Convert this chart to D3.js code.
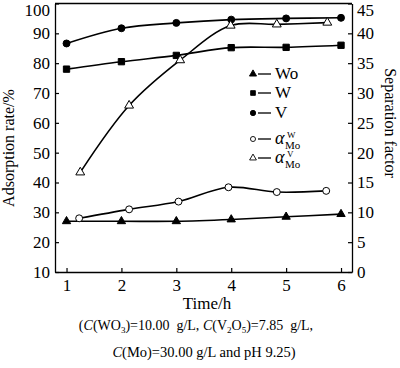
<!DOCTYPE html>
<html><head><meta charset="utf-8">
<script src="https://cdn.jsdelivr.net/npm/d3@7"></script>
<style>body{margin:0;background:#fff}svg{display:block;font-family:"Times New Roman","Liberation Serif",Times,serif}</style>
</head><body><svg id="c" width="400" height="368"></svg>
<script>
const times = [1, 2, 3, 4, 5, 6];
const woRate = [27.0, 27.0, 27.0, 27.6, 28.5, 29.4];
const wRate = [78.0, 80.5, 82.6, 85.2, 85.3, 86.0];
const vRate = [86.6, 91.7, 93.5, 94.6, 95.0, 95.2];
const alphaWTime = [1.23, 2.14, 3.04, 3.95, 4.83, 5.73];
const alphaW = [9.0, 10.5, 11.8, 14.2, 13.4, 13.6];
const alphaVTime = [1.25, 2.14, 3.07, 3.99, 4.83, 5.75];
const alphaV = [16.7, 27.9, 35.5, 41.3, 41.5, 41.8];
const leftTicks = [10, 20, 30, 40, 50, 60, 70, 80, 90, 100];
const rightTicks = [0, 5, 10, 15, 20, 25, 30, 35, 40, 45];
const xTicks = [1, 2, 3, 4, 5, 6];

const FONT = '"Times New Roman","Liberation Serif",Times,serif';
const svg = d3.select("#c");
const L = 55, R = 352, T = 3.5, B = 272;
const x = d3.scaleLinear().domain([0.79, 6.2]).range([L, R]);
const yL = d3.scaleLinear().domain([10, 100]).range([B, T]);
const yR = d3.scaleLinear().domain([0, 45]).range([B, T]);

function styleAxis(g){
  g.attr("font-family", FONT);
  g.selectAll("path").attr("stroke","#000").attr("stroke-width",1.3);
  g.selectAll("line").attr("stroke","#000").attr("stroke-width",1.2);
  g.selectAll("text").attr("font-size",17).attr("fill","#000").attr("font-family",FONT);
}
const gx = svg.append("g").attr("transform",`translate(0,${B})`)
  .call(d3.axisBottom(x).tickValues(xTicks).tickFormat(d3.format("d")).tickSizeInner(-4).tickSizeOuter(0).tickPadding(7));
styleAxis(gx);
const gl = svg.append("g").attr("transform",`translate(${L},0)`)
  .call(d3.axisLeft(yL).tickValues(leftTicks).tickSizeInner(-4).tickSizeOuter(0).tickPadding(5));
styleAxis(gl);
const gr = svg.append("g").attr("transform",`translate(${R},0)`)
  .call(d3.axisRight(yR).tickValues(rightTicks).tickSizeInner(-4).tickSizeOuter(0).tickPadding(5));
styleAxis(gr);
// keep the topmost tick labels inside the picture
gl.selectAll(".tick text").filter(d => d === 100).attr("dy", "0.7em");
gr.selectAll(".tick text").filter(d => d === 45).attr("dy", "0.7em");
svg.append("line").attr("x1",L).attr("x2",R).attr("y1",T).attr("y2",T).attr("stroke","#000").attr("stroke-width",1.3);

const line = d3.line().curve(d3.curveCatmullRom.alpha(0.5));
function drawSeries(xs, ys, yScale, sym, fill){
  const pts = xs.map((d,i)=>[x(d), yScale(ys[i])]);
  svg.append("path").attr("d", line(pts)).attr("fill","none").attr("stroke","#000").attr("stroke-width",1.6);
  svg.append("g").selectAll("path").data(pts).join("path")
    .attr("transform", d=>`translate(${d[0]},${d[1]})`)
    .attr("d", d3.symbol().type(sym).size(sym===d3.symbolSquare?40:(sym===d3.symbolTriangle?(fill?30:34):38)))
    .attr("fill", fill ? "#000" : "#fff").attr("stroke","#000").attr("stroke-width",1);
}
drawSeries(times, woRate, yL, d3.symbolTriangle, true);
drawSeries(times, wRate, yL, d3.symbolSquare, true);
drawSeries(times, vRate, yL, d3.symbolCircle, true);
drawSeries(alphaWTime, alphaW, yR, d3.symbolCircle, false);
drawSeries(alphaVTime, alphaV, yR, d3.symbolTriangle, false);

// legend
const leg = [
  {sym:d3.symbolTriangle, fill:true, y:74, label:"Wo"},
  {sym:d3.symbolSquare, fill:true, y:93, label:"W"},
  {sym:d3.symbolCircle, fill:true, y:113, label:"V"},
  {sym:d3.symbolCircle, fill:false, y:139, label:"alpha", sup:"W"},
  {sym:d3.symbolTriangle, fill:false, y:158, label:"alpha", sup:"V"}
];
leg.forEach(l=>{
  svg.append("path").attr("transform",`translate(253,${l.y})`)
    .attr("d", d3.symbol().type(l.sym).size(l.fill?22:20)).attr("fill", l.fill?"#000":"#fff").attr("stroke","#000").attr("stroke-width",0.9);
  svg.append("line").attr("x1",258).attr("x2",271).attr("y1",l.y).attr("y2",l.y).attr("stroke","#000").attr("stroke-width",1.3);
  if(l.label==="alpha"){
    svg.append("text").attr("x",275).attr("y",l.y+5).attr("font-size",18).attr("font-style","italic").text("α");
    svg.append("text").attr("x",287).attr("y",l.y-1).attr("font-size",9).text(l.sup);
    svg.append("text").attr("x",285).attr("y",l.y+9.5).attr("font-size",11).text("Mo");
  } else {
    svg.append("text").attr("x",275).attr("y",l.y+5).attr("font-size",17).text(l.label);
  }
});

// axis titles
svg.append("text").attr("transform","translate(14,148) rotate(-90)").attr("text-anchor","middle").attr("font-size",16).text("Adsorption rate/%");
svg.append("text").attr("transform","translate(385,123) rotate(90)").attr("text-anchor","middle").attr("font-size",16).text("Separation factor");
svg.append("text").attr("x",207).attr("y",309).attr("text-anchor","middle").attr("font-size",17).text("Time/h");

// caption
const cap1 = svg.append("text").attr("x",196).attr("y",330).attr("text-anchor","middle").attr("font-size",14);
cap1.append("tspan").text("(");
cap1.append("tspan").attr("font-style","italic").text("C");
cap1.append("tspan").text("(WO");
cap1.append("tspan").attr("font-size",9).attr("dy",3).text("3");
cap1.append("tspan").attr("dy",-3).text(")=10.00\u00a0 g/L, ");
cap1.append("tspan").attr("font-style","italic").text("C");
cap1.append("tspan").text("(V");
cap1.append("tspan").attr("font-size",9).attr("dy",3).text("2");
cap1.append("tspan").attr("dy",-3).text("O");
cap1.append("tspan").attr("font-size",9).attr("dy",3).text("5");
cap1.append("tspan").attr("dy",-3).text(")=7.85\u00a0 g/L,");
const cap2 = svg.append("text").attr("x",204).attr("y",357).attr("text-anchor","middle").attr("font-size",14.5);
cap2.append("tspan").attr("font-style","italic").text("C");
cap2.append("tspan").text("(Mo)=30.00 g/L and pH 9.25)");
</script></body></html>
